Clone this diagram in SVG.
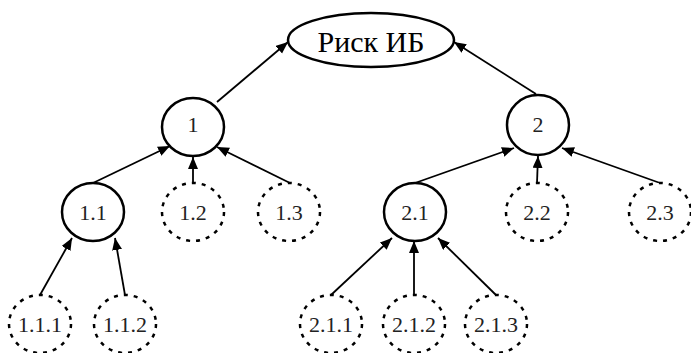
<svg xmlns="http://www.w3.org/2000/svg" width="691" height="353" viewBox="0 0 691 353">
  <defs>
    <marker id="arrow" markerUnits="userSpaceOnUse" markerWidth="13" markerHeight="11" refX="12" refY="5" orient="auto">
      <path d="M0,0 L12,5 L0,10 z" fill="#000"/>
    </marker>
  </defs>
  <style>
    .node { fill: #fff; stroke: #000; stroke-width: 2.5; }
    .dashed { stroke-dasharray: 4 6; }
    .label { font-family: "Liberation Serif", "Times New Roman", serif; font-size: 22px; fill: #222; text-anchor: middle; dominant-baseline: central; }
    .title { font-size: 30px; fill: #000; }
    .edge { stroke: #000; stroke-width: 1.8; fill: none; marker-end: url(#arrow); }
  </style>

  <!-- connectors: child top -> parent boundary -->
  <g id="connectors">
    <line class="edge" x1="217" y1="102" x2="288" y2="42"/>
    <line class="edge" x1="536" y1="94" x2="454" y2="42"/>
    <line class="edge" x1="93" y1="183" x2="170" y2="146"/>
    <line class="edge" x1="193" y1="183" x2="193" y2="157"/>
    <line class="edge" x1="290" y1="183" x2="217" y2="147"/>
    <line class="edge" x1="415" y1="183" x2="514" y2="148"/>
    <line class="edge" x1="537" y1="183" x2="538" y2="156"/>
    <line class="edge" x1="660" y1="183" x2="562" y2="148"/>
    <line class="edge" x1="40" y1="295" x2="72" y2="238"/>
    <line class="edge" x1="125" y1="295" x2="115" y2="238"/>
    <line class="edge" x1="331" y1="295" x2="392" y2="238"/>
    <line class="edge" x1="414" y1="295" x2="414" y2="241"/>
    <line class="edge" x1="496" y1="295" x2="438" y2="238"/>
  </g>

  <g id="risk">
    <ellipse class="node" cx="371" cy="40" rx="83" ry="27"/>
    <text class="label title" x="371" y="41">Риск ИБ</text>
  </g>

  <g id="n1">
    <ellipse class="node" cx="193" cy="127" rx="31" ry="29"/>
    <text class="label" x="193" y="124">1</text>
  </g>
  <g id="n2">
    <ellipse class="node" cx="538" cy="125" rx="31" ry="30"/>
    <text class="label" x="538" y="124">2</text>
  </g>

  <g id="n1-1">
    <ellipse class="node" cx="93" cy="212" rx="31" ry="29"/>
    <text class="label" x="93" y="212">1.1</text>
  </g>
  <g id="n1-2">
    <ellipse class="node dashed" cx="193" cy="212" rx="31" ry="29"/>
    <text class="label" x="193" y="212">1.2</text>
  </g>
  <g id="n1-3">
    <ellipse class="node dashed" cx="289" cy="212" rx="31" ry="29"/>
    <text class="label" x="289" y="212">1.3</text>
  </g>
  <g id="n2-1">
    <ellipse class="node" cx="415" cy="212" rx="31" ry="29"/>
    <text class="label" x="415" y="212">2.1</text>
  </g>
  <g id="n2-2">
    <ellipse class="node dashed" cx="537" cy="212" rx="31" ry="29"/>
    <text class="label" x="537" y="212">2.2</text>
  </g>
  <g id="n2-3">
    <ellipse class="node dashed" cx="660" cy="212" rx="31" ry="29"/>
    <text class="label" x="660" y="212">2.3</text>
  </g>

  <g id="n1-1-1">
    <ellipse class="node dashed" cx="40" cy="324" rx="31" ry="29"/>
    <text class="label" x="40" y="324">1.1.1</text>
  </g>
  <g id="n1-1-2">
    <ellipse class="node dashed" cx="125" cy="324" rx="31" ry="29"/>
    <text class="label" x="125" y="324">1.1.2</text>
  </g>
  <g id="n2-1-1">
    <ellipse class="node dashed" cx="331" cy="324" rx="31" ry="29"/>
    <text class="label" x="331" y="324">2.1.1</text>
  </g>
  <g id="n2-1-2">
    <ellipse class="node dashed" cx="414" cy="324" rx="31" ry="29"/>
    <text class="label" x="414" y="324">2.1.2</text>
  </g>
  <g id="n2-1-3">
    <ellipse class="node dashed" cx="496" cy="324" rx="31" ry="29"/>
    <text class="label" x="496" y="324">2.1.3</text>
  </g>
</svg>
